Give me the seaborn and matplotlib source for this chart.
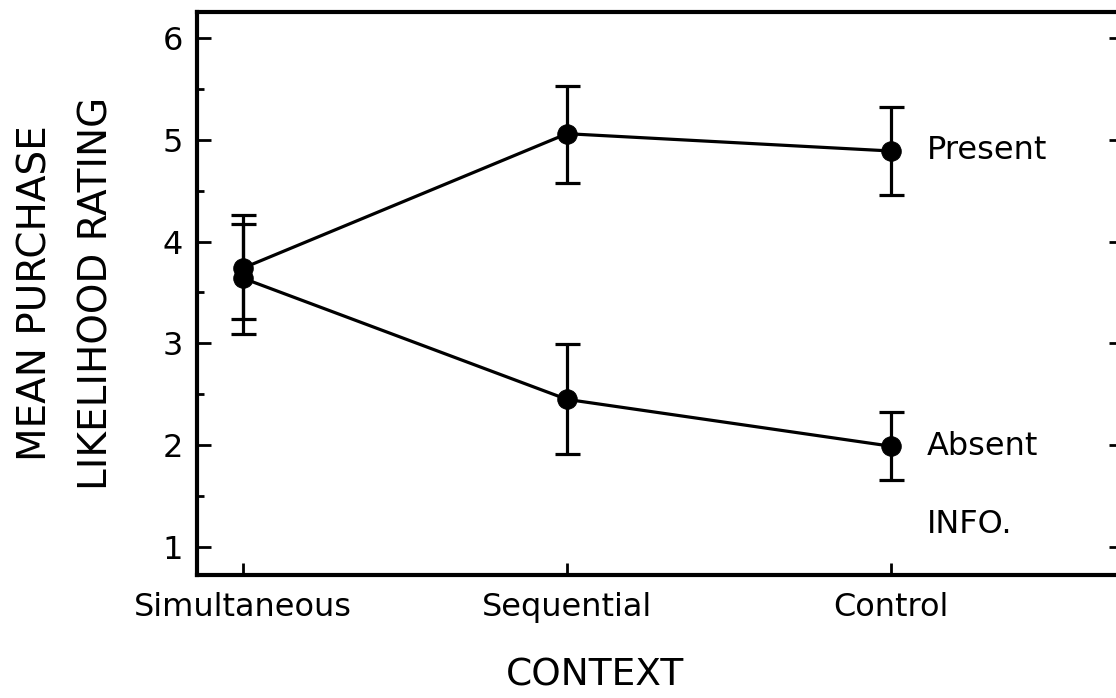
import numpy as np
import matplotlib
matplotlib.use("Agg")
import matplotlib.pyplot as plt
import seaborn as sns
import pandas as pd
from matplotlib.ticker import MultipleLocator

# Datos
contextos = ["Simultaneous", "Sequential", "Control"]
present_media = [3.74, 5.06, 4.89]
present_sup = [4.26, 5.53, 5.32]
present_inf = [3.24, 4.58, 4.46]
absent_media = [3.64, 2.45, 1.99]
absent_sup = [4.17, 2.99, 2.33]
absent_inf = [3.09, 1.91, 1.66]

sns.set_style("ticks")
plt.rcParams['font.family'] = ['DejaVu Sans']
plt.rcParams['text.color'] = 'black'
plt.rcParams['xtick.color'] = 'black'
plt.rcParams['ytick.color'] = 'black'
plt.rcParams['axes.labelcolor'] = 'black'

df = pd.DataFrame({
    "pos": list(range(len(contextos))) * 2,
    "media": present_media + absent_media,
    "info": ["Present"] * 3 + ["Absent"] * 3,
})

fig = plt.figure(figsize=(11.16, 6.98), dpi=100)
ax = fig.add_axes([197 / 1116, 123 / 698, 926 / 1116, 563 / 698])

# Líneas y puntos
sns.lineplot(data=df, x="pos", y="media", units="info", estimator=None,
             color="black", linewidth=2.3, marker="o", markersize=14,
             markeredgecolor="black", ax=ax, legend=False)

# Barras de error
x = np.arange(len(contextos))
for media, sup, inf in [(present_media, present_sup, present_inf),
                        (absent_media, absent_sup, absent_inf)]:
    media = np.array(media)
    err = [media - np.array(inf), np.array(sup) - media]
    ax.errorbar(x, media, yerr=err, fmt="none", ecolor="black",
                elinewidth=2.3, capsize=9, capthick=2.3)

# Etiquetas de las series
ax.text(2 + 36 / 324, present_media[2], "Present", fontsize=23,
        va="center", ha="left")
ax.text(2 + 36 / 324, absent_media[2], "Absent", fontsize=23,
        va="center", ha="left")
ax.text(2 + 36 / 324, 1.22, "INFO.", fontsize=23, va="center", ha="left")

ax.set_xlim(-46 / 324, 2 + 232 / 324)
ax.set_ylim(1 - 28 / 101.8, 6 + 26 / 101.8)
ax.set_xticks(x)
ax.set_xticklabels(contextos, fontsize=23)
ax.set_yticks([1, 2, 3, 4, 5, 6])
ax.yaxis.set_minor_locator(MultipleLocator(0.5))
ax.tick_params(axis="y", labelsize=23, direction="in", length=10, width=2,
               right=True, pad=10)
ax.tick_params(axis="y", which="minor", direction="in", length=5, width=2,
               right=True)
ax.tick_params(axis="x", direction="in", length=9, width=2, pad=12)

for s in ax.spines.values():
    s.set_linewidth(3)
    s.set_color("black")

ax.set_xlabel("CONTEXT", fontsize=27)
ax.xaxis.set_label_coords(398 / 926, -100 / 563)
ax.xaxis.label.set_va("center")
ax.set_ylabel("MEAN PURCHASE\nLIKELIHOOD RATING", fontsize=28,
              linespacing=1.75)
ax.yaxis.set_label_coords(-131 / 926, 0.5)
ax.yaxis.label.set_va("center")

fig.savefig("out.png", dpi=100)
